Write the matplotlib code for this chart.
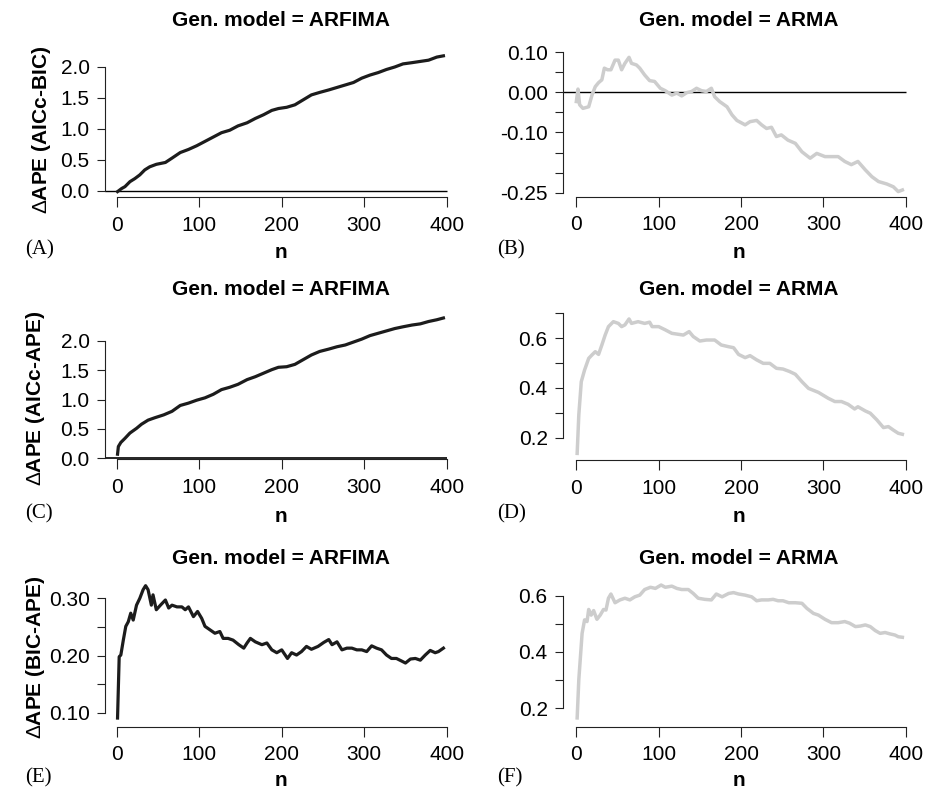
import matplotlib
matplotlib.use("Agg")
import matplotlib.pyplot as plt

# values
nA = [1, 6, 10, 16, 22, 28, 34, 40, 48, 59, 67, 77, 87, 97, 107, 117, 127, 137, 147, 158,
      168, 178, 188, 196, 206, 216, 226, 236, 246, 257, 267, 277, 287, 297, 307, 317, 327,
      337, 347, 358, 368, 378, 388, 396]
aicc_bic = [-0.01, 0.04, 0.07, 0.15, 0.20, 0.26, 0.34, 0.39, 0.43, 0.46, 0.53, 0.62, 0.67,
            0.73, 0.80, 0.87, 0.94, 0.98, 1.05, 1.10, 1.17, 1.23, 1.30, 1.33, 1.35, 1.39,
            1.47, 1.55, 1.59, 1.63, 1.67, 1.71, 1.75, 1.82, 1.87, 1.91, 1.96, 2.00, 2.05,
            2.07, 2.09, 2.11, 2.16, 2.18]

nB = [0, 2, 4, 8, 15, 19, 23, 27, 31, 34, 38, 42, 47, 51, 55, 59, 64, 67, 73, 77, 83, 89,
      95, 102, 108, 116, 122, 128, 134, 140, 146, 152, 158, 164, 168, 174, 183, 189, 195,
      205, 211, 219, 225, 231, 237, 243, 249, 257, 266, 274, 284, 292, 302, 310, 318, 326,
      334, 342, 351, 359, 367, 377, 385, 391, 396]
arma_aicc_bic = [-0.023, 0.008, -0.031, -0.040, -0.036, -0.007, 0.014, 0.024, 0.031, 0.060,
                 0.056, 0.056, 0.080, 0.080, 0.056, 0.072, 0.087, 0.072, 0.068, 0.060, 0.043,
                 0.029, 0.027, 0.010, 0.004, -0.007, -0.002, -0.009, -0.001, 0.002, 0.010,
                 0.004, 0.002, 0.010, -0.011, -0.023, -0.036, -0.056, -0.070, -0.081, -0.073,
                 -0.070, -0.081, -0.090, -0.087, -0.110, -0.106, -0.119, -0.127, -0.148,
                 -0.164, -0.152, -0.160, -0.160, -0.160, -0.172, -0.180, -0.172, -0.193,
                 -0.210, -0.222, -0.228, -0.235, -0.247, -0.243]

nC = [1, 2, 5, 10, 16, 24, 30, 38, 46, 57, 67, 77, 87, 97, 107, 117, 127, 137, 147, 158,
      168, 178, 188, 196, 206, 216, 226, 236, 246, 257, 267, 277, 287, 297, 307, 317, 327,
      337, 347, 358, 368, 378, 388, 396]
aicc_ape = [0.07, 0.20, 0.27, 0.34, 0.43, 0.51, 0.58, 0.65, 0.69, 0.74, 0.80, 0.90, 0.94,
            0.99, 1.03, 1.09, 1.17, 1.21, 1.26, 1.34, 1.39, 1.45, 1.51, 1.55, 1.56, 1.60,
            1.68, 1.76, 1.82, 1.86, 1.90, 1.93, 1.98, 2.03, 2.09, 2.13, 2.17, 2.21, 2.24,
            2.27, 2.29, 2.33, 2.36, 2.39]

nD = [1, 3, 6, 10, 15, 19, 23, 27, 31, 35, 39, 45, 51, 55, 59, 64, 67, 75, 83, 89, 92, 100,
      108, 116, 124, 130, 137, 142, 150, 158, 168, 176, 185, 191, 197, 205, 211, 219, 227,
      235, 243, 251, 259, 266, 274, 282, 294, 306, 314, 322, 330, 338, 342, 351, 357, 365,
      373, 379, 385, 391, 396]
arma_aicc_ape = [0.136, 0.291, 0.425, 0.472, 0.519, 0.533, 0.546, 0.535, 0.573, 0.613, 0.647,
                 0.667, 0.660, 0.647, 0.654, 0.678, 0.660, 0.667, 0.660, 0.665, 0.647, 0.647,
                 0.634, 0.620, 0.616, 0.613, 0.627, 0.607, 0.589, 0.593, 0.593, 0.573, 0.566,
                 0.562, 0.535, 0.522, 0.530, 0.513, 0.499, 0.499, 0.479, 0.476, 0.466, 0.455,
                 0.425, 0.398, 0.382, 0.358, 0.345, 0.345, 0.334, 0.315, 0.324, 0.307, 0.298,
                 0.271, 0.240, 0.244, 0.230, 0.217, 0.213]

nE = [1, 3, 5, 8, 11, 14, 17, 20, 24, 28, 32, 35, 38, 42, 44, 48, 53, 59, 63, 67, 73, 79,
      83, 87, 93, 98, 103, 107, 113, 119, 125, 129, 135, 141, 148, 154, 158, 162, 168, 176,
      182, 188, 194, 200, 207, 212, 218, 224, 230, 236, 244, 251, 257, 261, 267, 273, 279,
      285, 291, 297, 303, 309, 315, 321, 327, 333, 339, 346, 350, 356, 362, 368, 374, 380,
      386, 390, 396]
bic_ape = [0.091, 0.198, 0.201, 0.227, 0.251, 0.259, 0.274, 0.262, 0.288, 0.300, 0.315,
           0.322, 0.315, 0.288, 0.306, 0.280, 0.288, 0.297, 0.283, 0.288, 0.285, 0.285,
           0.280, 0.285, 0.268, 0.277, 0.265, 0.251, 0.245, 0.239, 0.242, 0.230, 0.230,
           0.227, 0.219, 0.213, 0.222, 0.230, 0.224, 0.219, 0.222, 0.210, 0.205, 0.210,
           0.195, 0.205, 0.201, 0.207, 0.216, 0.211, 0.216, 0.223, 0.228, 0.219, 0.224,
           0.210, 0.213, 0.213, 0.210, 0.210, 0.207, 0.217, 0.213, 0.210, 0.201, 0.195,
           0.195, 0.190, 0.187, 0.194, 0.195, 0.192, 0.201, 0.209, 0.205, 0.207, 0.213]

nF = [1, 3, 7, 10, 13, 15, 18, 21, 25, 29, 33, 36, 39, 42, 47, 53, 59, 65, 71, 77, 83, 90,
      96, 103, 108, 116, 122, 128, 136, 142, 148, 156, 164, 170, 177, 185, 191, 197, 205,
      213, 219, 225, 233, 239, 245, 251, 258, 266, 274, 280, 288, 294, 302, 310, 318, 326,
      332, 339, 345, 351, 357, 363, 369, 375, 381, 387, 391, 396]
arma_bic_ape = [0.165, 0.301, 0.466, 0.514, 0.508, 0.551, 0.531, 0.547, 0.516, 0.531, 0.551,
                0.549, 0.591, 0.606, 0.575, 0.585, 0.591, 0.585, 0.596, 0.602, 0.622, 0.630,
                0.626, 0.638, 0.630, 0.634, 0.626, 0.622, 0.622, 0.608, 0.591, 0.587, 0.585,
                0.606, 0.596, 0.608, 0.611, 0.606, 0.602, 0.596, 0.582, 0.585, 0.585, 0.587,
                0.582, 0.582, 0.575, 0.575, 0.573, 0.555, 0.537, 0.531, 0.516, 0.504, 0.504,
                0.508, 0.502, 0.490, 0.492, 0.496, 0.490, 0.476, 0.466, 0.469, 0.464, 0.460,
                0.454, 0.452]

plt.rcParams['font.family'] = ['Liberation Sans', 'DejaVu Sans']
plt.rcParams['mathtext.fontset'] = 'custom'
plt.rcParams['mathtext.rm'] = 'Liberation Sans'
FS = 15

W, H = 926, 791
fig = plt.figure(figsize=(W / 100, H / 100), dpi=100)


def panel(l, t, r, b, xlim, ylim):
    ax = fig.add_axes([l / W, 1 - b / H, (r - l) / W, (b - t) / H])
    ax.set_xlim(xlim)
    ax.set_ylim(ylim)
    ax.patch.set_visible(False)
    for s in ['top', 'right']:
        ax.spines[s].set_visible(False)
    for s in ['left', 'bottom']:
        ax.spines[s].set_color('#222222')
        ax.spines[s].set_linewidth(0.8)
    ax.spines['bottom'].set_bounds(0, 400)
    ax.set_xticks([0, 100, 200, 300, 400])
    ax.tick_params(axis='x', length=7.5, pad=6, labelsize=FS, width=0.8, color='#222222')
    ax.tick_params(axis='y', length=6, pad=5, labelsize=FS, width=0.8, color='#222222')
    return ax


def yaxis(ax, ticks, labels):
    ax.spines['left'].set_bounds(ticks[0], ticks[-1])
    ax.set_yticks(ticks)
    ax.set_yticklabels(labels)


LX = (-14.2, 416.1)
RX = (-16.2, 417.4)
dark = '#1c1c1c'
grey = '#cdcdcd'

# row 1
axA = panel(105, 51, 460, 197, LX, (-0.097, 2.258))
axA.hlines(0, LX[0], 400, color='black', lw=1)
axA.plot(nA, aicc_bic, color=dark, lw=2.3)
yaxis(axA, [0, 0.5, 1.0, 1.5, 2.0], ['0.0', '0.5', '1.0', '1.5', '2.0'])

axB = panel(563, 51, 920, 196.7, RX, (-0.2597, 0.1027))
axB.hlines(0, RX[0], 400, color='black', lw=1)
axB.plot(nB, arma_aicc_bic, color=grey, lw=2.5)
yaxis(axB, [-0.25, -0.20, -0.15, -0.10, -0.05, 0.0, 0.05, 0.10],
      ['-0.25', '', '', '-0.10', '', '0.00', '', '0.10'])

# row 2
axC = panel(105, 312, 460, 459, LX, (-0.012, 2.492))
axC.hlines(0, LX[0], 400, color='black', lw=1.2)
axC.plot(nC, aicc_ape, color=dark, lw=2.3)
yaxis(axC, [0, 0.5, 1.0, 1.5, 2.0], ['0.0', '0.5', '1.0', '1.5', '2.0'])

axD = panel(563, 311, 920, 460, RX, (0.1093, 0.710))
axD.plot(nD, arma_aicc_ape, color=grey, lw=2.5)
yaxis(axD, [0.2, 0.3, 0.4, 0.5, 0.6, 0.7], ['0.2', '', '0.4', '', '0.6', ''])

# row 3
axE = panel(105, 578, 460, 726.7, LX, (0.0759, 0.3354))
axE.plot(nE, bic_ape, color=dark, lw=2.3)
yaxis(axE, [0.10, 0.15, 0.20, 0.25, 0.30], ['0.10', '', '0.20', '', '0.30'])

axF = panel(563, 578, 920, 726.7, RX, (0.1338, 0.663))
axF.plot(nF, arma_bic_ape, color=grey, lw=2.5)
yaxis(axF, [0.2, 0.3, 0.4, 0.5, 0.6], ['0.2', '', '0.4', '', '0.6'])


def ftext(x, y, s, **kw):
    fig.text(x / W, 1 - y / H, s, fontsize=FS, **kw)


# titles, x labels, panel letters
rows = [(20, 252, 250, 'A', 'B'), (290, 516, 514, 'C', 'D'), (558, 780, 778, 'E', 'F')]
for ty, ny, ly, la, lb in rows:
    ftext(281, ty, 'Gen. model = ARFIMA', ha='center', va='center', fontweight='bold')
    ftext(739, ty, 'Gen. model = ARMA', ha='center', va='center', fontweight='bold')
    ftext(281, ny, 'n', ha='center', va='center', fontweight='bold')
    ftext(739, ny, 'n', ha='center', va='center', fontweight='bold')
    ftext(25, ly, '(' + la + ')', ha='left', va='center', family='Liberation Serif')
    ftext(497, ly, '(' + lb + ')', ha='left', va='center', family='Liberation Serif')

# y labels
ftext(42, 130, r'$\Delta$APE (AICc-BIC)', ha='center', va='center', rotation=90,
      fontweight='bold')
ftext(36, 398, r'$\Delta$APE (AICc-APE)', ha='center', va='center', rotation=90,
      fontweight='bold')
ftext(36, 657, r'$\Delta$APE (BIC-APE)', ha='center', va='center', rotation=90,
      fontweight='bold')

fig.savefig('out.png', dpi=100)
